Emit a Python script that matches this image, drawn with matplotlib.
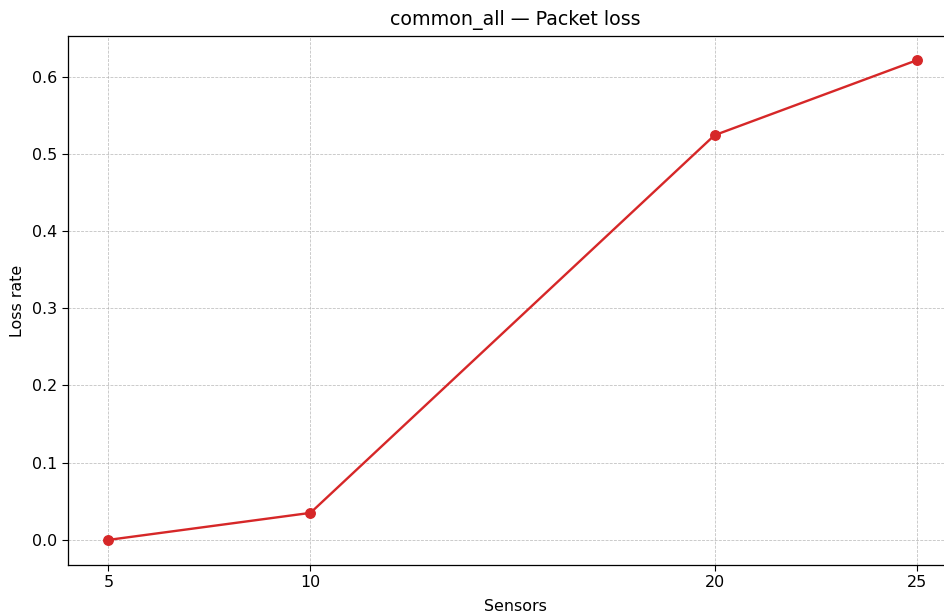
import numpy as np
from matplotlib import pyplot as plt

sensors = [5, 10, 20, 25]
loss_rate = [0.0, 0.035, 0.524, 0.621]

s = 1.14
plt.rcParams['font.size'] = 10 * s
plt.rcParams['xtick.major.size'] = 3.5 * s
plt.rcParams['ytick.major.size'] = 3.5 * s
plt.rcParams['axes.linewidth'] = 0.8 * s

fig = plt.figure(figsize=(9.45, 6.15), dpi=100)
ax = fig.add_axes([68 / 945, 1 - 565 / 615, 895 / 945, 529 / 615])

ax.plot(sensors, loss_rate, color='#d62728', marker='o', markersize=6 * s, linewidth=1.5 * s)
ax.set_xlim(4, 26.15)
ax.set_ylim(-0.0325, 0.6525)
ax.set_xticks(sensors)
ax.set_xlabel('Sensors', labelpad=6)
ax.set_ylabel('Loss rate', labelpad=5)
ax.set_title('common_all — Packet loss', fontsize=12 * s, pad=8)
ax.grid(True, linestyle='--', linewidth=0.5 * s, color='#b0b0b0', alpha=0.8)
# right edge of the axes falls outside the canvas in the reference
ax.spines['right'].set_visible(False)

plt.savefig('out.png', dpi=100)
